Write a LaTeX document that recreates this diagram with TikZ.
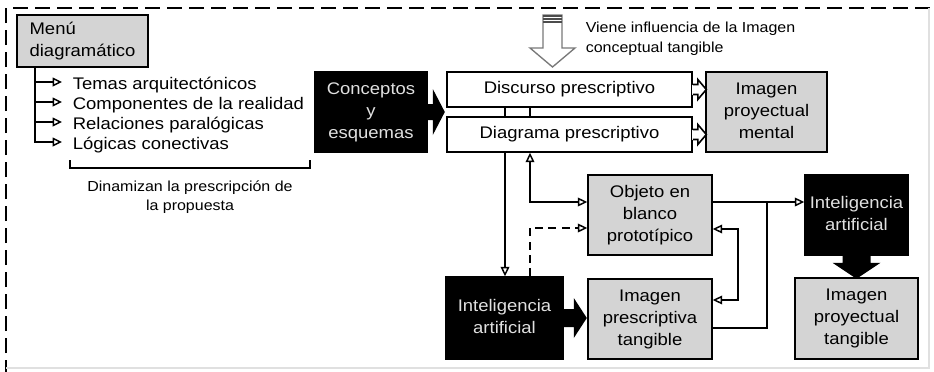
\documentclass[tikz,border=0pt]{standalone}
\usepackage{fontspec}
\setmainfont{Liberation Sans}
\usepackage{graphicx}
\usetikzlibrary{arrows.meta}
\definecolor{boxgray}{RGB}{212,212,212}
\definecolor{ltext}{RGB}{224,224,224}
\definecolor{arrgray}{RGB}{120,120,120}
\newcommand{\sx}[1]{\scalebox{1.1}[1]{#1}}
\newcommand{\ml}[1]{\sx{\begin{tabular}{@{}c@{}}#1\end{tabular}}}
\begin{document}
\begin{tikzpicture}[x=0.75pt,y=-0.75pt,line width=1.2pt,
  bx/.style 2 args={minimum width=#1*0.75pt, minimum height=#2*0.75pt, inner sep=0pt, draw, line width=1.2pt},
  graybox/.style={fill=boxgray},
  blackbox/.style={fill=black, text=ltext},
  whitebox/.style={fill=white},
  fbig/.style={font=\fontsize{12.6}{16.5}\selectfont},
  flist/.style={font=\fontsize{12.6}{15}\selectfont, anchor=west, inner sep=0pt, text height=11.25pt, text depth=0pt},
  fsmall/.style={font=\fontsize{10.9}{14.5}\selectfont},
  conn/.style={line width=1.1pt},
  otip/.style={conn, -{Triangle[fill=white,length=7pt,width=6.5pt]}},
  dtip/.style={conn, {Triangle[fill=white,length=7pt,width=6.5pt]}-{Triangle[fill=white,length=7pt,width=6.5pt]}}
]
\useasboundingbox (0,0) rectangle (934,371);
% outer frame
\draw[line width=1.5pt, dash pattern=on 11.25pt off 5.25pt] (6,375) -- (6,8) -- (940,8);
\draw[black!12, line width=0.8pt] (929,8) -- (929,368) -- (6,368);

% menu
\node[bx={131}{52}, graybox, fbig] (menu) at (82.5,41) {\sx{\begin{tabular}{@{}l@{}}Menú\\diagramático\end{tabular}}};
\coordinate (trunk) at ([xshift=14.25pt]menu.south west);
\node[flist] (t1) at (72,82) {\sx{Temas arquitectónicos}};
\node[flist] (t2) at (72,102) {\sx{Componentes de la realidad}};
\node[flist] (t3) at (72,122) {\sx{Relaciones paralógicas}};
\node[flist] (t4) at (72,142) {\sx{Lógicas conectivas}};
\draw[otip] (trunk) |- ([xshift=-7.5pt]t1.west);
\draw[otip] (trunk) |- ([xshift=-7.5pt]t2.west);
\draw[otip] (trunk) |- ([xshift=-7.5pt]t3.west);
\draw[otip] (trunk) |- ([xshift=-7.5pt]t4.west);
\draw (70,160) -- (70,168) -- (310,168) -- (310,160);
\node[fsmall] (dyn) at (190,197) {\ml{Dinamizan la prescripción de\\la propuesta}};

% conceptos
\node[bx={112}{80}, blackbox, fbig] (conc) at (371,112) {\ml{Conceptos\\y\\esquemas}};
\begin{scope}[shift={(conc.east)}]
\fill[black] (-1,-8) -- (5,-8) -- (5,-23) -- (17,0) -- (5,23) -- (5,8) -- (-1,8) -- cycle;
\end{scope}

% discurso / diagrama
\node[bx={245}{35}, whitebox, fbig] (disc) at (569.5,89.5) {\sx{Discurso prescriptivo}};
\node[bx={245}{35}, whitebox, fbig] (diag) at (569.5,134.5) {\sx{Diagrama prescriptivo}};
\coordinate (xa) at (505,0);
\coordinate (xb) at (530,0);
\draw (disc.south -| xa) -- (diag.north -| xa);
\draw (disc.south -| xb) -- (diag.north -| xb);

% imagen proyectual mental
\node[bx={121}{80}, graybox, fbig] (ipm) at (766.5,112) {\ml{Imagen\\proyectual\\mental}};
\begin{scope}[shift={(disc.east)}]
\fill[white] (-1,-5) rectangle (5,5);
\draw[fill=white] (0,-5) -- (5,-5) -- (5,-10) -- (13.5,0) -- (5,10) -- (5,5) -- (0,5);
\end{scope}
\begin{scope}[shift={(diag.east)}]
\fill[white] (-1,-5) rectangle (5,5);
\draw[fill=white] (0,-5) -- (5,-5) -- (5,-10) -- (13.5,0) -- (5,10) -- (5,5) -- (0,5);
\end{scope}

% influence arrow
\draw[arrgray, fill=white, line width=1pt] (543,15) -- (543,48) -- (530,48) -- (552.5,67) -- (575,48) -- (562,48) -- (562,15) -- cycle;
\draw[black!70, line width=0.8pt] (543,16) -- (562,16) (543,19) -- (562,19) (543,22) -- (562,22);
\node[fsmall, anchor=north west, inner sep=0pt] (inf) at (585,18.5) {\sx{\begin{tabular}{@{}l@{}}Viene influencia de la Imagen\\conceptual tangible\end{tabular}}};

% objeto, imagen prescriptiva, IA
\node[bx={124}{80}, graybox, fbig] (obj) at (650,215) {\ml{Objeto en\\blanco\\prototípico}};
\node[bx={124}{80}, graybox, fbig] (ipt) at (650,319) {\ml{Imagen\\prescriptiva\\tangible}};
\node[bx={117}{82}, blackbox, fbig] (ia1) at (504.5,318) {\ml{Inteligencia\\artificial}};
\begin{scope}[shift={(ia1.east)}]
\fill[black] (-1,-9) -- (10,-9) -- (10,-20) -- (23,0) -- (10,20) -- (10,9) -- (-1,9) -- cycle;
\end{scope}

\draw[otip] (diag.south -| xa) -- (ia1.north -| xa);
\draw[dtip] (diag.south -| xb) |- ([yshift=9.75pt]obj.west);
\draw[otip, dash pattern=on 6pt off 4pt] (ia1.north -| xb) |- ([yshift=-9.75pt]obj.west);
\draw[dtip] ([yshift=-10.5pt]obj.east) -- ++(25,0) |- ([yshift=14.25pt]ipt.east);

% right side
\node[bx={103}{80}, blackbox, fbig] (ia2) at (856.5,215) {\ml{Inteligencia\\artificial}};
\node[bx={123}{81}, graybox, fbig] (ipt2) at (856.5,318.5) {\ml{Imagen\\proyectual\\tangible}};
\coordinate (jn) at (767,202);
\draw[otip] ([yshift=9.75pt]obj.east) -- ([yshift=9.75pt]ia2.west);
\draw[conn] ([yshift=-6.75pt]ipt.east) -| (jn);
\begin{scope}[shift={(ia2.south)}]
\fill[black] (-14,-1) -- (-14,7) -- (-24,7) -- (0,23) -- (24,7) -- (14,7) -- (14,-1) -- cycle;
\end{scope}
\end{tikzpicture}
\end{document}
